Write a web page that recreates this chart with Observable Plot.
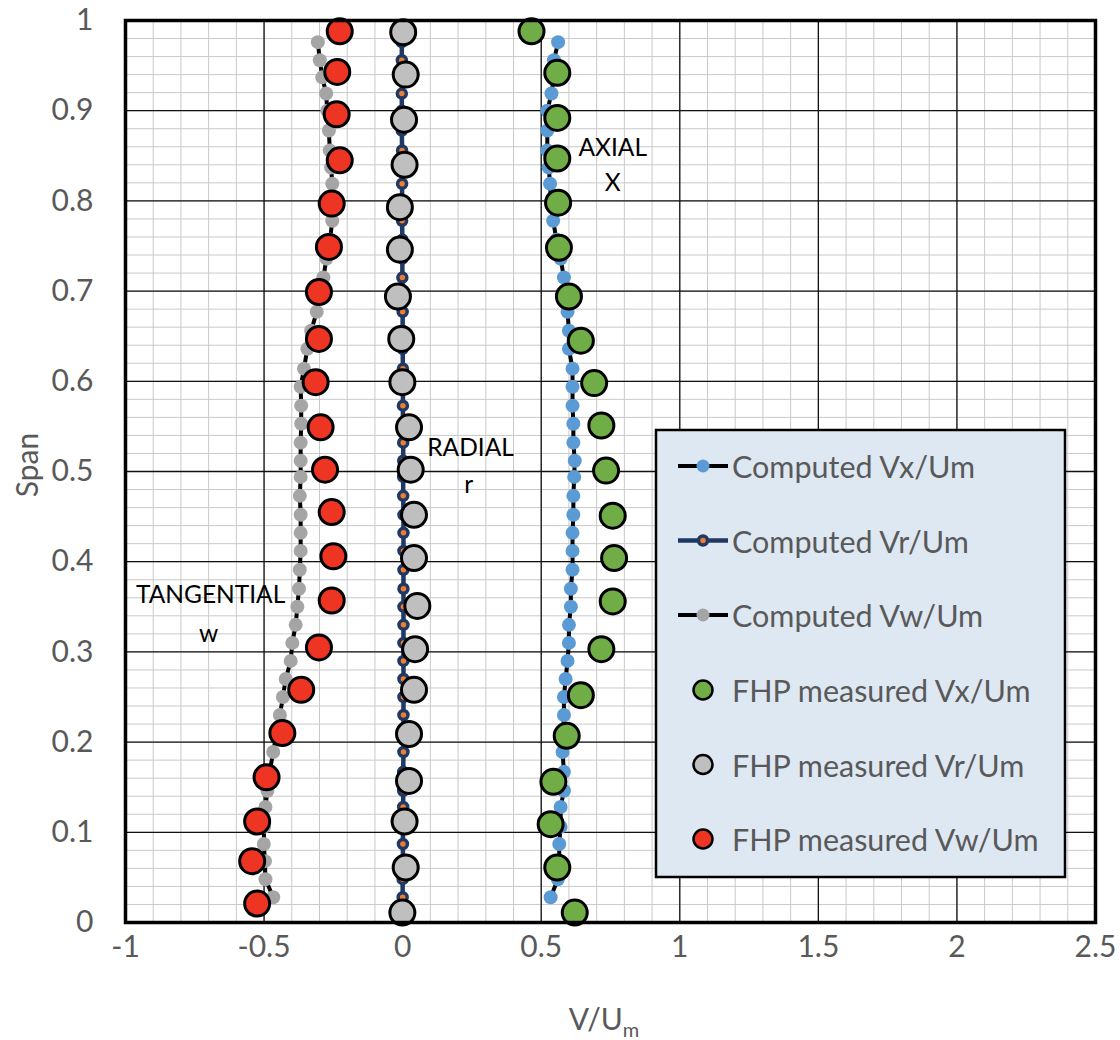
<!DOCTYPE html>
<html>
<head>
<meta charset="utf-8">
<script src="https://cdn.jsdelivr.net/npm/d3@7"></script>
<script src="https://cdn.jsdelivr.net/npm/@observablehq/plot@0.6"></script>
<style>
  html, body { margin: 0; padding: 0; background: #fff; }
  #wrap { position: relative; width: 1120px; height: 1040px; font-family: Lato, "Open Sans", sans-serif; }
  #wrap > svg { position: absolute; left: 0; top: 0; }
</style>
</head>
<body>
<div id="wrap"></div>
<script>
// ---------- data ----------
const xTicks = [-1, -0.5, 0, 0.5, 1, 1.5, 2, 2.5];
const yTicks = [0, 0.1, 0.2, 0.3, 0.4, 0.5, 0.6, 0.7, 0.8, 0.9, 1];
const xMinor = d3.range(-10, 26).map(i => i / 10);
const yMinor = d3.range(0, 51).map(i => i / 50);

const seriesNames = ["Computed Vx/Um", "Computed Vr/Um", "Computed Vw/Um",
  "FHP measured Vx/Um", "FHP measured Vr/Um", "FHP measured Vw/Um"];

const compSpan = [0.028,0.048,0.068,0.087,0.106,0.128,0.146,0.167,0.189,0.210,0.230,0.250,0.270,0.290,0.310,0.330,0.350,0.370,0.391,0.412,0.432,0.452,0.473,0.494,0.512,0.532,0.553,0.573,0.594,0.614,0.636,0.656,0.677,0.696,0.715,0.736,0.757,0.778,0.798,0.819,0.837,0.856,0.878,0.900,0.919,0.937,0.956,0.976];
const compVx = [0.534,0.560,0.565,0.565,0.570,0.570,0.582,0.582,0.577,0.580,0.582,0.582,0.588,0.595,0.600,0.600,0.607,0.607,0.613,0.613,0.613,0.616,0.616,0.619,0.621,0.616,0.616,0.613,0.613,0.613,0.600,0.600,0.595,0.588,0.582,0.570,0.555,0.543,0.535,0.532,0.527,0.522,0.522,0.522,0.537,0.545,0.546,0.561];
const compVr = [0.000,0.000,0.001,0.001,0.001,0.002,0.002,0.002,0.003,0.003,0.003,0.003,0.003,0.003,0.003,0.003,0.003,0.003,0.003,0.003,0.003,0.003,0.002,0.002,0.002,0.002,0.001,0.001,0.001,0.001,0.000,0.000,0.000,0.000,-0.001,-0.001,-0.001,-0.002,-0.002,-0.002,-0.002,-0.002,-0.003,-0.003,-0.003,-0.003,-0.003,-0.003];
const compVw = [-0.467,-0.495,-0.497,-0.501,-0.500,-0.495,-0.488,-0.480,-0.467,-0.455,-0.443,-0.432,-0.422,-0.404,-0.398,-0.386,-0.380,-0.374,-0.371,-0.368,-0.368,-0.368,-0.371,-0.368,-0.368,-0.368,-0.366,-0.366,-0.368,-0.356,-0.344,-0.330,-0.310,-0.298,-0.286,-0.275,-0.262,-0.254,-0.252,-0.254,-0.258,-0.263,-0.266,-0.272,-0.276,-0.290,-0.299,-0.306];

const measSpanX = [0.011,0.061,0.109,0.156,0.207,0.252,0.303,0.356,0.404,0.451,0.501,0.551,0.598,0.645,0.694,0.748,0.798,0.847,0.892,0.942,0.988];
const measVx = [0.621,0.558,0.534,0.544,0.592,0.643,0.717,0.758,0.763,0.758,0.734,0.717,0.691,0.643,0.600,0.564,0.561,0.558,0.558,0.558,0.465];
const measSpanR = [0.011,0.061,0.112,0.157,0.209,0.258,0.303,0.351,0.404,0.452,0.502,0.549,0.599,0.647,0.694,0.746,0.793,0.840,0.890,0.940,0.987];
const measVr = [-0.001,0.011,0.007,0.023,0.023,0.041,0.045,0.053,0.041,0.041,0.029,0.023,-0.001,-0.005,-0.017,-0.010,-0.010,0.007,0.005,0.011,0.002];
const measSpanW = [0.021,0.068,0.112,0.161,0.210,0.258,0.305,0.357,0.406,0.455,0.502,0.549,0.599,0.647,0.699,0.749,0.797,0.845,0.896,0.943,0.988];
const measVw = [-0.525,-0.543,-0.525,-0.491,-0.434,-0.366,-0.302,-0.256,-0.250,-0.256,-0.280,-0.296,-0.314,-0.302,-0.302,-0.266,-0.256,-0.227,-0.238,-0.236,-0.227];

const annText = ["TANGENTIAL", "w", "RADIAL", "r", "AXIAL", "X"];
const annX = [-0.693, -0.700, 0.245, 0.238, 0.758, 0.758];
const annY = [0.3625, 0.320, 0.5255, 0.4845, 0.859, 0.820];

// ---------- tables ----------
const comp = compSpan.map((s, i) => ({span: s, vx: compVx[i], vr: compVr[i], vw: compVw[i]}));
const mX = measSpanX.map((s, i) => ({span: s, v: measVx[i]}));
const mR = measSpanR.map((s, i) => ({span: s, v: measVr[i]}));
const mW = measSpanW.map((s, i) => ({span: s, v: measVw[i]}));
const ann = annText.map((t, i) => ({t, x: annX[i], y: annY[i]}));

const C = {
  blue: "#5b9bd5", navy: "#1f3864", orange: "#ed7d31", grey: "#a5a5a5",
  green: "#70ad47", mgrey: "#bfbfbf", red: "#ee3524"
};

const chart = Plot.plot({
  width: 1120, height: 1040,
  marginLeft: 125, marginRight: 25, marginTop: 20, marginBottom: 118,
  style: {fontFamily: "Lato, 'Open Sans', sans-serif", fontSize: "30px", color: "#595959", background: "white", overflow: "visible"},
  x: {domain: [-1, 2.5], ticks: xTicks, tickFormat: d => String(d), tickSize: 0, tickPadding: 13, label: null},
  y: {domain: [0, 1], ticks: yTicks, tickFormat: d => String(d), tickSize: 0, tickPadding: 32, label: null},
  marks: [
    Plot.ruleX(xMinor, {stroke: "#c9c9c9", strokeWidth: 1}),
    Plot.ruleY(yMinor, {stroke: "#c9c9c9", strokeWidth: 1}),
    Plot.ruleX(xTicks, {stroke: "#111", strokeWidth: 1.3}),
    Plot.ruleY(yTicks, {stroke: "#111", strokeWidth: 1.3}),
    Plot.text(ann, {x: "x", y: "y", text: "t", fill: "black", fontSize: 24.5, fontFamily: "Lato, sans-serif"}),
    // computed Vw
    Plot.line(comp, {x: "vw", y: "span", stroke: "black", strokeWidth: 4}),
    Plot.dot(comp, {x: "vw", y: "span", r: 7, fill: C.grey, stroke: "none"}),
    // computed Vx
    Plot.line(comp, {x: "vx", y: "span", stroke: "black", strokeWidth: 4}),
    Plot.dot(comp, {x: "vx", y: "span", r: 7, fill: C.blue, stroke: "none"}),
    // computed Vr
    Plot.line(comp, {x: "vr", y: "span", stroke: C.navy, strokeWidth: 4.5}),
    Plot.dot(comp, {x: "vr", y: "span", r: 4.5, fill: C.orange, stroke: C.navy, strokeWidth: 3.5}),
    // measured
    Plot.dot(mR, {x: "v", y: "span", r: 12.5, fill: C.mgrey, stroke: "black", strokeWidth: 3}),
    Plot.dot(mW, {x: "v", y: "span", r: 12.5, fill: C.red, stroke: "black", strokeWidth: 3}),
    Plot.dot(mX, {x: "v", y: "span", r: 12.5, fill: C.green, stroke: "black", strokeWidth: 3}),
    Plot.frame({stroke: "black", strokeWidth: 3.5})
  ]
});

const wrap = document.getElementById("wrap");
wrap.appendChild(chart);

// ---------- overlay: axis titles and legend ----------
const ov = d3.create("svg").attr("width", 1120).attr("height", 1040)
  .style("position", "absolute").style("left", 0).style("top", 0)
  .style("font-family", "Lato, 'Open Sans', sans-serif");

ov.append("text").attr("transform", "translate(26,465) rotate(-90)")
  .attr("text-anchor", "middle").attr("dominant-baseline", "central")
  .attr("fill", "#595959").attr("font-size", 30).text("Span");

const xl = ov.append("text").attr("x", 604).attr("y", 1030).attr("text-anchor", "middle")
  .attr("fill", "#595959").attr("font-size", 30);
xl.append("tspan").text("V/U");
xl.append("tspan").attr("font-size", 20).attr("dy", 7).text("m");

const lg = ov.append("g");
lg.append("rect").attr("x", 656).attr("y", 430).attr("width", 409).attr("height", 447)
  .attr("fill", "#dee8f3").attr("stroke", "black").attr("stroke-width", 2.5);
const rowY = [466, 540.5, 615, 690, 764.5, 839];
const sym = [
  {type: "line", stroke: "black", fill: C.blue},
  {type: "lineR", stroke: C.navy, fill: C.orange},
  {type: "line", stroke: "black", fill: C.grey},
  {type: "dot", fill: C.green},
  {type: "dot", fill: C.mgrey},
  {type: "dot", fill: C.red}
];
seriesNames.forEach((name, i) => {
  const y = rowY[i], s = sym[i];
  if (s.type === "line") {
    lg.append("line").attr("x1", 678).attr("x2", 728).attr("y1", y).attr("y2", y).attr("stroke", s.stroke).attr("stroke-width", 4);
    lg.append("circle").attr("cx", 703).attr("cy", y).attr("r", 6.5).attr("fill", s.fill);
  } else if (s.type === "lineR") {
    lg.append("line").attr("x1", 678).attr("x2", 728).attr("y1", y).attr("y2", y).attr("stroke", s.stroke).attr("stroke-width", 4.5);
    lg.append("circle").attr("cx", 703).attr("cy", y).attr("r", 4.5).attr("fill", s.fill).attr("stroke", s.stroke).attr("stroke-width", 3.5);
  } else {
    lg.append("circle").attr("cx", 703).attr("cy", y).attr("r", 9.5).attr("fill", s.fill).attr("stroke", "black").attr("stroke-width", 2.5);
  }
  lg.append("text").attr("x", 732).attr("y", y).attr("dominant-baseline", "central")
    .attr("fill", "#595959").attr("font-size", 30.5).text(name);
});

wrap.appendChild(ov.node());
</script>
</body>
</html>
